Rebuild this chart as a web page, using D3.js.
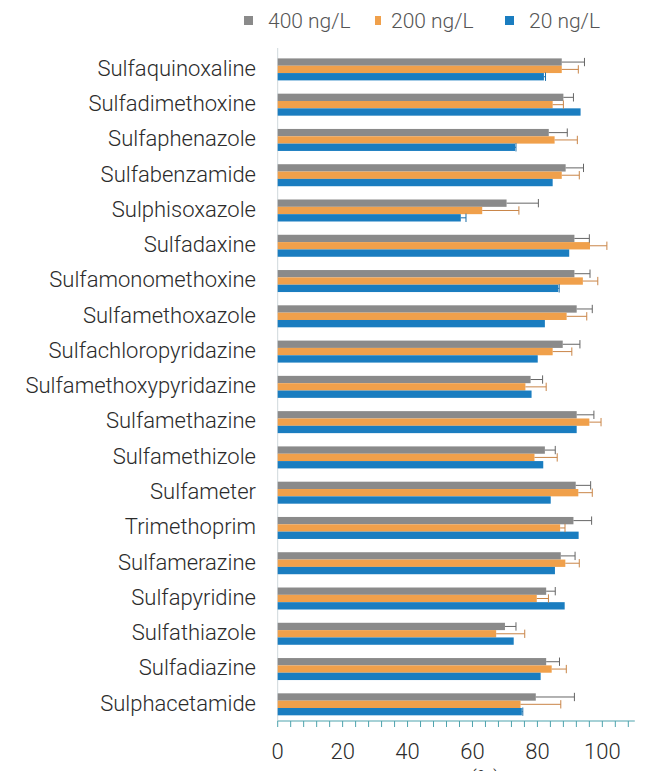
<!DOCTYPE html>
<html>
<head>
<meta charset="utf-8">
<script src="https://d3js.org/d3.v7.min.js"></script>
<title>Recovery</title>
<style>
  body { margin: 0; background: #fff; }
  svg { display: block; font-family: Roboto, "Noto Sans", sans-serif; }
</style>
</head>
<body>
<script>
// categories, top to bottom
var categories = ["Sulfaquinoxaline", "Sulfadimethoxine", "Sulfaphenazole", "Sulfabenzamide",
  "Sulphisoxazole", "Sulfadaxine", "Sulfamonomethoxine", "Sulfamethoxazole",
  "Sulfachloropyridazine", "Sulfamethoxypyridazine", "Sulfamethazine", "Sulfamethizole",
  "Sulfameter", "Trimethoprim", "Sulfamerazine", "Sulfapyridine", "Sulfathiazole",
  "Sulfadiazine", "Sulphacetamide"];

var seriesNames = ["400 ng/L", "200 ng/L", "20 ng/L"];

var values400 = [87.5, 88.0, 83.5, 88.7, 70.5, 91.4, 91.4, 92.1, 87.8, 77.9, 92.1, 82.3, 91.8, 91.1, 87.2, 82.7, 70.0, 82.7, 79.5];
var err400    = [7.0, 3.1, 5.7, 5.5, 9.8, 4.6, 4.8, 4.8, 5.3, 3.7, 5.3, 3.2, 4.6, 5.6, 4.4, 2.8, 3.4, 4.1, 11.9];
var values200 = [87.5, 84.7, 85.3, 87.5, 63.0, 96.2, 94.0, 89.0, 84.7, 76.3, 96.0, 79.1, 92.6, 87.0, 88.6, 79.8, 67.3, 84.4, 74.8];
var err200    = [5.1, 3.3, 7.0, 5.4, 11.3, 5.2, 4.6, 6.2, 5.9, 6.4, 3.6, 7.0, 4.3, 1.5, 4.3, 3.6, 8.8, 4.5, 12.4];
var values20  = [82.0, 93.3, 73.1, 84.7, 56.4, 89.8, 86.4, 82.3, 80.1, 78.2, 92.1, 81.8, 84.1, 92.7, 85.4, 88.4, 72.7, 81.0, 75.2];
var err20     = [0.5, 0, 0.3, 0, 1.6, 0, 0.3, 0, 0, 0, 0, 0, 0, 0, 0, 0, 0, 0, 0.3];

var xLabels = [0, 20, 40, 60, 80, 100];
var xMinorTicks = d3.range(0, 109, 4);

var colors = ["#8a8a8a", "#f0a04b", "#1a7dc0"];
var errColors = ["#666666", "#c98548", "#1a6da8"];

var width = 668, height = 771;
var svg = d3.select("body").append("svg")
    .attr("width", width)
    .attr("height", height);

var x = d3.scaleLinear().domain([0, 110]).range([277.7, 634.8]);
var y = d3.scaleBand().domain(categories).range([51.4, 721.6]).paddingInner(0).paddingOuter(0);
var inner = d3.scaleBand().domain(seriesNames).range([7, 29]).padding(0);

var table = categories.map(function(c, i) {
  return {
    cat: c,
    items: [
      { s: 0, v: values400[i], e: err400[i] },
      { s: 1, v: values200[i], e: err200[i] },
      { s: 2, v: values20[i], e: err20[i] }
    ]
  };
});

// vertical axis line
svg.append("line")
    .attr("x1", x(0)).attr("x2", x(0))
    .attr("y1", 48).attr("y2", 721)
    .attr("stroke", "#cfd8dc").attr("stroke-width", 1);

var grp = svg.selectAll("g.cat")
    .data(table)
    .enter().append("g")
    .attr("class", "cat")
    .attr("transform", function(d) { return "translate(0," + y(d.cat) + ")"; });

grp.selectAll("rect")
    .data(function(d) { return d.items; })
    .enter().append("rect")
    .attr("x", x(0))
    .attr("y", function(d) { return inner(seriesNames[d.s]); })
    .attr("width", function(d) { return x(d.v) - x(0); })
    .attr("height", inner.bandwidth())
    .attr("fill", function(d) { return colors[d.s]; });

// error bars (only the upper half is drawn)
var errs = grp.selectAll("g.err")
    .data(function(d) { return d.items.filter(function(it) { return it.e > 0; }); })
    .enter().append("g")
    .attr("class", "err")
    .attr("stroke", function(d) { return errColors[d.s]; })
    .attr("stroke-width", 1);

errs.append("line")
    .attr("x1", function(d) { return x(d.v); })
    .attr("x2", function(d) { return x(d.v + d.e); })
    .attr("y1", function(d) { return inner(seriesNames[d.s]) + inner.bandwidth() / 2; })
    .attr("y2", function(d) { return inner(seriesNames[d.s]) + inner.bandwidth() / 2; });

errs.append("line")
    .attr("x1", function(d) { return x(d.v + d.e); })
    .attr("x2", function(d) { return x(d.v + d.e); })
    .attr("y1", function(d) { return inner(seriesNames[d.s]) - 0.5; })
    .attr("y2", function(d) { return inner(seriesNames[d.s]) + inner.bandwidth() + 0.5; });

// category labels
svg.selectAll("text.cat")
    .data(categories)
    .enter().append("text")
    .attr("class", "cat")
    .attr("x", 256)
    .attr("y", function(d) { return y(d) + y.bandwidth() / 2 - 1; })
    .attr("dy", "0.35em")
    .attr("text-anchor", "end")
    .attr("font-size", 22)
    .attr("font-weight", 300)
    .attr("fill", "#2b2b2b")
    .text(function(d) { return d; });

// x axis
var axisY = 721;
svg.append("line")
    .attr("x1", x(0)).attr("x2", x(110))
    .attr("y1", axisY).attr("y2", axisY)
    .attr("stroke", "#4ea3ad").attr("stroke-width", 1.2);

svg.selectAll("line.tick")
    .data(xMinorTicks)
    .enter().append("line")
    .attr("class", "tick")
    .attr("x1", function(d) { return x(d); })
    .attr("x2", function(d) { return x(d); })
    .attr("y1", axisY).attr("y2", axisY + 6)
    .attr("stroke", "#4ea3ad").attr("stroke-width", 1);

svg.selectAll("text.xl")
    .data(xLabels)
    .enter().append("text")
    .attr("class", "xl")
    .attr("x", function(d) { return x(d); })
    .attr("y", 759)
    .attr("text-anchor", "middle")
    .attr("font-size", 22)
    .attr("font-weight", 300)
    .attr("fill", "#2b2b2b")
    .text(function(d) { return d; });

// axis title, cut off by the bottom edge as in the source
svg.append("text")
    .attr("x", 485)
    .attr("y", 786)
    .attr("text-anchor", "middle")
    .attr("font-size", 22)
    .attr("font-weight", 300)
    .attr("fill", "#2b2b2b")
    .text("(%)");

// legend
var legX = [244, 375, 505];
var leg = svg.selectAll("g.leg")
    .data(seriesNames)
    .enter().append("g")
    .attr("class", "leg")
    .attr("transform", function(d, i) { return "translate(" + legX[i] + ",0)"; });

leg.append("rect")
    .attr("x", 0).attr("y", 16)
    .attr("width", function(d, i) { return i == 1 ? 6 : 9; })
    .attr("height", 9)
    .attr("fill", function(d, i) { return colors[i]; });

leg.append("text")
    .attr("x", function(d, i) { return i == 1 ? 16 : 24; })
    .attr("y", 21)
    .attr("dy", "0.35em")
    .attr("font-size", 21)
    .attr("font-weight", 300)
    .attr("fill", "#555")
    .text(function(d) { return d; });
</script>
</body>
</html>
